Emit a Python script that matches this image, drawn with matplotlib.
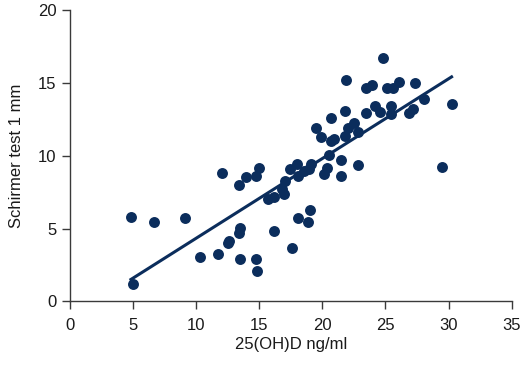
import numpy as np
import matplotlib
matplotlib.use("Agg")
import matplotlib.pyplot as plt

plt.rcParams['font.family'] = ['Liberation Sans', 'DejaVu Sans']

# 25(OH)D ng/ml vs Schirmer test 1 mm
vit_d = [4.86, 6.68, 9.11, 5.00, 10.29, 11.72, 12.08, 13.42, 13.95, 14.72,
         14.98, 12.55, 12.63, 13.40, 13.50, 13.53, 14.72, 14.82, 15.69, 16.22,
         16.22, 16.98, 16.80, 17.04, 17.43, 18.04, 18.09, 18.09, 17.61, 20.51,
         21.52, 22.86, 29.47, 19.09, 18.58, 18.97, 20.36, 20.14, 21.52, 19.04,
         18.85, 24.84, 21.86, 23.44, 23.94, 25.10, 25.60, 26.10, 27.34, 28.08,
         30.24, 21.83, 23.49, 24.15, 24.57, 25.42, 25.47, 26.84, 27.18, 20.67,
         19.54, 19.91, 20.73, 20.91, 21.80, 22.02, 22.49, 22.86]
schirmer = [5.77, 5.47, 5.72, 1.21, 3.04, 3.23, 8.79, 7.99, 8.56, 8.59,
            9.13, 3.98, 4.16, 4.71, 5.03, 2.88, 2.88, 2.06, 7.03, 7.16,
            4.83, 7.35, 7.69, 8.24, 9.07, 9.43, 8.61, 5.74, 3.64, 10.03,
            9.73, 9.34, 9.22, 9.45, 8.95, 9.09, 9.13, 8.72, 8.61, 6.29,
            5.43, 16.71, 15.20, 14.63, 14.88, 14.63, 14.63, 15.08, 14.99, 13.89,
            13.57, 13.07, 12.91, 13.43, 13.02, 13.41, 12.86, 12.95, 13.19, 12.57,
            11.90, 11.28, 11.03, 11.17, 11.37, 11.92, 12.25, 11.65]

# regression line as drawn
fit_intercept = -1.16
fit_slope = 0.548

navy = '#0b2d5c'

fig = plt.figure(figsize=(5.27, 3.72), dpi=100)
ax = fig.add_axes([0.132, 0.19, 0.839, 0.783])

ax.scatter(vit_d, schirmer, s=62, color=navy, zorder=3, linewidths=0)
xs = np.array([min(vit_d), max(vit_d)])
ax.plot(xs, fit_intercept + fit_slope * xs, color=navy, lw=2.2, zorder=2)

ax.set_xlim(0, 35)
ax.set_ylim(0, 20)
ax.set_xticks(range(0, 36, 5))
ax.set_yticks(range(0, 21, 5))
for side in ['top', 'right']:
    ax.spines[side].set_visible(False)
for side in ['left', 'bottom']:
    ax.spines[side].set_color('#3a3a3a')
    ax.spines[side].set_linewidth(1.0)
ax.tick_params(colors='#3a3a3a', labelcolor='#1a1a1a', labelsize=12, length=6, width=1.0)
ax.tick_params(axis='x', pad=6)

ax.set_xlabel('25(OH)D ng/ml', fontsize=12, color='#1a1a1a', labelpad=3)
ax.set_ylabel('Schirmer test 1 mm', fontsize=12, color='#1a1a1a', labelpad=10)

fig.savefig('out.png', dpi=100)
